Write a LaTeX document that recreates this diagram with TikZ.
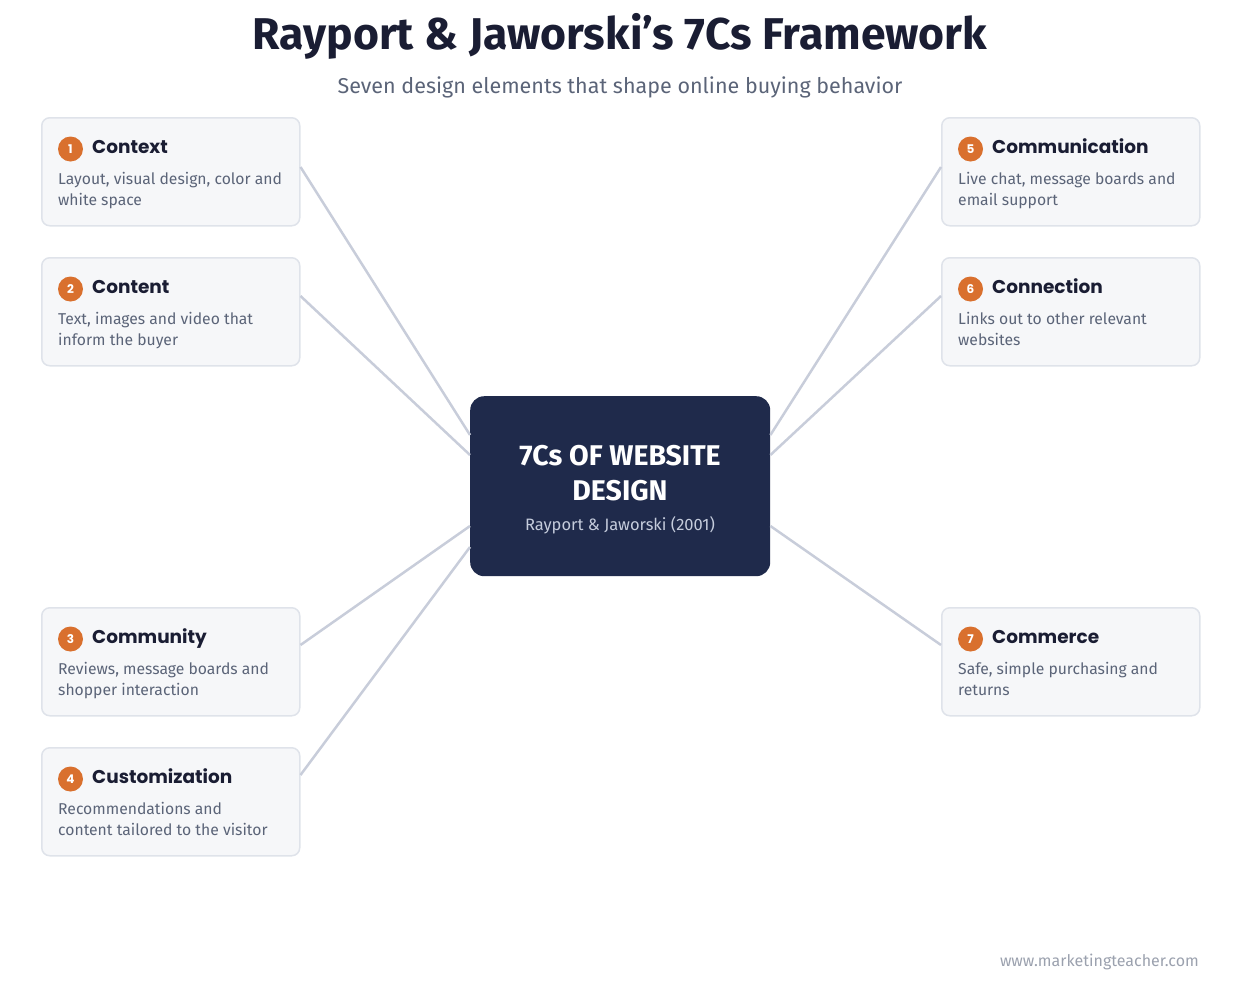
\documentclass[tikz,border=0pt]{standalone}
\usepackage{fontspec}
\setmainfont{Fira Sans}
\newfontfamily\headfont{Poppins}
\newfontfamily\bodyfont{Fira Sans}
\usetikzlibrary{calc}
\definecolor{ink}{HTML}{1A1D33}
\definecolor{muted}{HTML}{5B6478}
\definecolor{cardfill}{HTML}{F6F7F9}
\definecolor{cardline}{HTML}{DFE3EA}
\definecolor{hubfill}{HTML}{1F2A4B}
\definecolor{hubsubcol}{HTML}{C5CCDC}
\definecolor{badgecol}{HTML}{D9702E}
\definecolor{linkcol}{HTML}{C8CDDA}
\definecolor{footcol}{HTML}{9BA1AE}
\begin{document}
\begin{tikzpicture}[x=1pt,y=-1pt,
    card/.style={draw=cardline, line width=1.5pt, fill=cardfill, rounded corners=8pt,
      minimum width=258pt, minimum height=108pt, anchor=north west, inner sep=0pt},
    badge/.style={circle, fill=badgecol, text=white, minimum size=25pt, inner sep=0pt,
      font=\headfont\bfseries\fontsize{12}{12}\selectfont},
    cname/.style={anchor=base west, inner sep=0pt, text=ink,
      font=\headfont\bfseries\fontsize{18.5}{22}\selectfont},
    cdesc/.style={anchor=north west, inner sep=0pt, align=left, text=muted,
      font=\bodyfont\fontsize{15.7}{21.5}\selectfont},
    link/.style={draw=linkcol, line width=2.5pt},
  ]
  \useasboundingbox (0,0) rectangle (1240,986);

  \node[text=ink, font=\bfseries\fontsize{44.5}{50}\selectfont] (title) at (620,36) {Rayport \& Jaworski’s 7Cs Framework};
  \node[text=muted, font=\bodyfont\fontsize{21.5}{26}\selectfont] (subtitle) at (620,87) {Seven design elements that shape online buying behavior};

  % left column
  \node[card] (c1) at (41,117) {};
  \node[badge] (b1) at ($(c1.north west)+(29.5,32)$) {1};
  \node[cname] (n1) at ($(c1.north west)+(51,36)$) {Context};
  \node[cdesc] (d1) at ($(c1.north west)+(17,55)$) {Layout, visual design, color and\\white space};

  \node[card] (c2) at (41,257) {};
  \node[badge] (b2) at ($(c2.north west)+(29.5,32)$) {2};
  \node[cname] (n2) at ($(c2.north west)+(51,36)$) {Content};
  \node[cdesc] (d2) at ($(c2.north west)+(17,55)$) {Text, images and video that\\inform the buyer};

  \node[card] (c3) at (41,607) {};
  \node[badge] (b3) at ($(c3.north west)+(29.5,32)$) {3};
  \node[cname] (n3) at ($(c3.north west)+(51,36)$) {Community};
  \node[cdesc] (d3) at ($(c3.north west)+(17,55)$) {Reviews, message boards and\\shopper interaction};

  \node[card] (c4) at (41,747) {};
  \node[badge] (b4) at ($(c4.north west)+(29.5,32)$) {4};
  \node[cname] (n4) at ($(c4.north west)+(51,36)$) {Customization};
  \node[cdesc] (d4) at ($(c4.north west)+(17,55)$) {Recommendations and\\content tailored to the visitor};

  % right column
  \node[card] (c5) at (941,117) {};
  \node[badge] (b5) at ($(c5.north west)+(29.5,32)$) {5};
  \node[cname] (n5) at ($(c5.north west)+(51,36)$) {Communication};
  \node[cdesc] (d5) at ($(c5.north west)+(17,55)$) {Live chat, message boards and\\email support};

  \node[card] (c6) at (941,257) {};
  \node[badge] (b6) at ($(c6.north west)+(29.5,32)$) {6};
  \node[cname] (n6) at ($(c6.north west)+(51,36)$) {Connection};
  \node[cdesc] (d6) at ($(c6.north west)+(17,55)$) {Links out to other relevant\\websites};

  \node[card] (c7) at (941,607) {};
  \node[badge] (b7) at ($(c7.north west)+(29.5,32)$) {7};
  \node[cname] (n7) at ($(c7.north west)+(51,36)$) {Commerce};
  \node[cdesc] (d7) at ($(c7.north west)+(17,55)$) {Safe, simple purchasing and\\returns};

  % centre
  \node[fill=hubfill, rounded corners=14pt, minimum width=300pt, minimum height=180pt,
    anchor=north west, inner sep=0pt] (hub) at (470,396) {};
  \node[text=white, align=center, font=\bfseries\fontsize{28.5}{35}\selectfont] (hubtitle) at (620,473) {7Cs OF WEBSITE\\DESIGN};
  \node[text=hubsubcol, font=\bodyfont\fontsize{16.5}{20}\selectfont] (hubsub) at (620,525) {Rayport \& Jaworski (2001)};

  \draw[link] ($(c1.north east)+(0,50)$) -- ($(hub.north west)+(0,39)$);
  \draw[link] ($(c2.north east)+(0,39)$) -- ($(hub.north west)+(0,59)$);
  \draw[link] ($(c3.north east)+(0,38)$) -- ($(hub.north west)+(0,130)$);
  \draw[link] ($(c4.north east)+(0,28)$) -- ($(hub.north west)+(0,151)$);
  \draw[link] ($(c5.north west)+(0,50)$) -- ($(hub.north east)+(0,39)$);
  \draw[link] ($(c6.north west)+(0,39)$) -- ($(hub.north east)+(0,59)$);
  \draw[link] ($(c7.north west)+(0,38)$) -- ($(hub.north east)+(0,130)$);

  \node[anchor=base east, inner sep=0pt, text=footcol, font=\bodyfont\fontsize{16}{18}\selectfont] (foot) at (1199,966) {www.marketingteacher.com};
\end{tikzpicture}
\end{document}
